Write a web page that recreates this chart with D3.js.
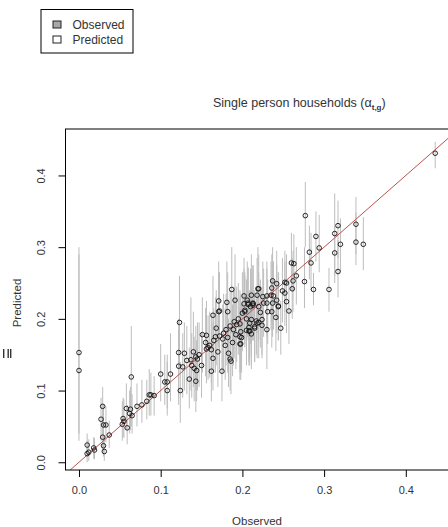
<!DOCTYPE html>
<html>
<head>
<meta charset="utf-8">
<script src="https://cdn.jsdelivr.net/npm/d3@7"></script>
<style>
  body { margin: 0; background: #fff; }
  svg { display: block; font-family: "Liberation Sans", Arial, sans-serif; }
</style>
</head>
<body>
<div id="chart"></div>
<script>
// observed share, predicted share, and predicted interval (low / high)
var observed = [
  0.000, 0.000, 0.010, 0.010, 0.012, 0.018, 0.019, 0.030, 0.031, 0.029,
  0.029, 0.027, 0.030, 0.033, 0.037, 0.053, 0.054, 0.055, 0.058, 0.059,
  0.064, 0.063, 0.065, 0.062, 0.071, 0.077, 0.086, 0.088, 0.092, 0.100,
  0.105, 0.108, 0.112, 0.124, 0.123, 0.122, 0.122, 0.127, 0.129, 0.135,
  0.132, 0.137, 0.138, 0.141, 0.140, 0.143, 0.144, 0.145, 0.150, 0.151,
  0.156, 0.155, 0.156, 0.162, 0.162, 0.164, 0.164, 0.167, 0.168, 0.170,
  0.171, 0.175, 0.177, 0.179, 0.182, 0.183, 0.185, 0.186, 0.188, 0.189,
  0.192, 0.193, 0.197, 0.197, 0.198, 0.200, 0.203, 0.205, 0.208, 0.210,
  0.213, 0.215, 0.220, 0.187, 0.191, 0.171, 0.172, 0.181, 0.182, 0.202,
  0.206, 0.211, 0.218, 0.219, 0.213, 0.436, 0.277, 0.317, 0.339, 0.313,
  0.290, 0.320, 0.339, 0.348, 0.294, 0.282, 0.313, 0.260, 0.263, 0.284,
  0.266, 0.317, 0.276, 0.262, 0.261, 0.287, 0.306, 0.252, 0.254, 0.249,
  0.252, 0.237, 0.242, 0.236, 0.220, 0.254, 0.257, 0.247, 0.244, 0.242,
  0.238, 0.235, 0.230, 0.237, 0.230, 0.231, 0.236, 0.226, 0.225, 0.207,
  0.202, 0.203, 0.220, 0.222, 0.211, 0.218, 0.224, 0.208, 0.197, 0.241,
  0.244, 0.230, 0.224, 0.217, 0.215, 0.209, 0.209, 0.211, 0.205, 0.199,
  0.198, 0.158, 0.160, 0.165, 0.172, 0.176, 0.180, 0.185, 0.190, 0.195,
  0.147, 0.143, 0.108, 0.083, 0.213, 0.207
];
var predicted = [
  0.153, 0.128, 0.024, 0.012, 0.014, 0.020, 0.017, 0.023, 0.015, 0.035,
  0.078, 0.060, 0.052, 0.052, 0.038, 0.053, 0.061, 0.057, 0.075, 0.048,
  0.119, 0.074, 0.065, 0.068, 0.078, 0.080, 0.094, 0.094, 0.093, 0.123,
  0.112, 0.100, 0.123, 0.100, 0.195, 0.153, 0.134, 0.133, 0.152, 0.116,
  0.142, 0.143, 0.135, 0.131, 0.154, 0.113, 0.128, 0.144, 0.135, 0.178,
  0.177, 0.167, 0.158, 0.157, 0.127, 0.205, 0.145, 0.175, 0.187, 0.154,
  0.210, 0.127, 0.180, 0.163, 0.174, 0.152, 0.144, 0.141, 0.167, 0.185,
  0.178, 0.192, 0.175, 0.165, 0.182, 0.208, 0.210, 0.200, 0.183, 0.217,
  0.221, 0.189, 0.195, 0.241, 0.226, 0.225, 0.211, 0.223, 0.210, 0.232,
  0.226, 0.233, 0.233, 0.242, 0.222, 0.431, 0.344, 0.330, 0.332, 0.319,
  0.315, 0.304, 0.307, 0.304, 0.299, 0.293, 0.292, 0.278, 0.277, 0.278,
  0.260, 0.266, 0.252, 0.253, 0.242, 0.241, 0.241, 0.251, 0.250, 0.239,
  0.236, 0.253, 0.249, 0.243, 0.242, 0.224, 0.211, 0.187, 0.217, 0.226,
  0.232, 0.233, 0.232, 0.222, 0.222, 0.210, 0.210, 0.222, 0.231, 0.222,
  0.221, 0.212, 0.217, 0.209, 0.199, 0.194, 0.199, 0.188, 0.193, 0.202,
  0.218, 0.185, 0.191, 0.197, 0.187, 0.194, 0.183, 0.179, 0.184, 0.174,
  0.165, 0.160, 0.163, 0.170, 0.176, 0.172, 0.185, 0.190, 0.196, 0.200,
  0.150, 0.147, 0.112, 0.085, 0.219, 0.220
];
var predLow = [
  0.030, 0.040, 0.008, 0.000, 0.002, 0.005, 0.004, 0.008, 0.002, 0.015,
  0.040, 0.030, 0.025, 0.028, 0.020, 0.030, 0.035, 0.034, 0.045, 0.025,
  0.050, 0.045, 0.040, 0.040, 0.050, 0.055, 0.065, 0.065, 0.065, 0.085,
  0.080, 0.065, 0.085, 0.055, 0.130, 0.090, 0.080, 0.090, 0.100, 0.075,
  0.095, 0.100, 0.090, 0.085, 0.105, 0.070, 0.085, 0.100, 0.090, 0.125,
  0.130, 0.120, 0.110, 0.110, 0.085, 0.150, 0.100, 0.125, 0.135, 0.105,
  0.160, 0.085, 0.130, 0.115, 0.125, 0.105, 0.100, 0.095, 0.120, 0.135,
  0.130, 0.140, 0.125, 0.115, 0.130, 0.155, 0.160, 0.150, 0.135, 0.165,
  0.170, 0.140, 0.145, 0.180, 0.170, 0.165, 0.160, 0.170, 0.155, 0.180,
  0.175, 0.180, 0.180, 0.190, 0.170, 0.410, 0.300, 0.285, 0.290, 0.260,
  0.280, 0.265, 0.275, 0.268, 0.265, 0.255, 0.250, 0.240, 0.238, 0.240,
  0.220, 0.230, 0.215, 0.210, 0.200, 0.219, 0.210, 0.210, 0.205, 0.195,
  0.190, 0.205, 0.200, 0.195, 0.195, 0.180, 0.165, 0.150, 0.170, 0.180,
  0.185, 0.185, 0.185, 0.175, 0.175, 0.165, 0.160, 0.175, 0.185, 0.175,
  0.170, 0.165, 0.170, 0.160, 0.150, 0.145, 0.150, 0.140, 0.145, 0.155,
  0.170, 0.130, 0.145, 0.150, 0.140, 0.145, 0.135, 0.130, 0.135, 0.125,
  0.115, 0.115, 0.118, 0.125, 0.130, 0.125, 0.135, 0.140, 0.145, 0.150,
  0.105, 0.100, 0.075, 0.060, 0.170, 0.170
];
var predHigh = [
  0.300, 0.290, 0.040, 0.030, 0.032, 0.035, 0.034, 0.045, 0.035, 0.060,
  0.105, 0.090, 0.080, 0.078, 0.058, 0.085, 0.090, 0.088, 0.110, 0.080,
  0.190, 0.105, 0.095, 0.100, 0.110, 0.115, 0.130, 0.125, 0.120, 0.165,
  0.150, 0.140, 0.180, 0.140, 0.260, 0.200, 0.185, 0.180, 0.195, 0.160,
  0.190, 0.230, 0.180, 0.175, 0.210, 0.155, 0.170, 0.195, 0.180, 0.230,
  0.225, 0.215, 0.205, 0.205, 0.175, 0.260, 0.195, 0.230, 0.240, 0.205,
  0.265, 0.170, 0.235, 0.215, 0.225, 0.200, 0.190, 0.185, 0.220, 0.240,
  0.230, 0.245, 0.230, 0.215, 0.235, 0.265, 0.265, 0.255, 0.235, 0.270,
  0.275, 0.240, 0.250, 0.300, 0.290, 0.280, 0.265, 0.280, 0.265, 0.285,
  0.280, 0.290, 0.285, 0.300, 0.275, 0.447, 0.391, 0.365, 0.370, 0.375,
  0.350, 0.340, 0.348, 0.342, 0.345, 0.330, 0.330, 0.320, 0.318, 0.320,
  0.300, 0.310, 0.300, 0.295, 0.285, 0.264, 0.271, 0.295, 0.290, 0.285,
  0.280, 0.300, 0.295, 0.290, 0.290, 0.270, 0.255, 0.225, 0.265, 0.275,
  0.280, 0.280, 0.280, 0.270, 0.270, 0.255, 0.255, 0.270, 0.280, 0.270,
  0.270, 0.260, 0.265, 0.255, 0.245, 0.240, 0.245, 0.235, 0.240, 0.250,
  0.265, 0.230, 0.240, 0.245, 0.235, 0.240, 0.230, 0.225, 0.230, 0.220,
  0.210, 0.205, 0.210, 0.215, 0.225, 0.220, 0.235, 0.240, 0.245, 0.250,
  0.195, 0.190, 0.150, 0.115, 0.270, 0.272
];
var tickValues = [0.0, 0.1, 0.2, 0.3, 0.4];
var legendLabels = ["Observed", "Predicted"];
var legendFills = ["#a8a8a8", "#ffffff"];

var W = 448, H = 527;
var plot = { left: 65.5, top: 129, right: 453.6, bottom: 470 };
var xlim = [-0.0165, 0.4585];
var ylim = [-0.0108, 0.4648];

var svg = d3
  .select("#chart")
  .append("svg")
  .attr("width", W)
  .attr("height", H);

var x = d3.scaleLinear().domain(xlim).range([plot.left, plot.right]);
var y = d3.scaleLinear().domain(ylim).range([plot.bottom, plot.top]);

svg
  .append("defs")
  .append("clipPath")
  .attr("id", "plotclip")
  .append("rect")
  .attr("x", plot.left)
  .attr("y", plot.top)
  .attr("width", plot.right - plot.left)
  .attr("height", plot.bottom - plot.top);

var data = observed.map((d, i) => ({
  obs: d,
  pred: predicted[i],
  lo: predLow[i],
  hi: predHigh[i],
}));

var inner = svg.append("g").attr("clip-path", "url(#plotclip)");

// interval bars
inner
  .selectAll(".bar")
  .data(data)
  .enter()
  .append("line")
  .attr("class", "bar")
  .attr("x1", (d) => x(d.obs))
  .attr("x2", (d) => x(d.obs))
  .attr("y1", (d) => y(d.lo))
  .attr("y2", (d) => y(d.hi))
  .attr("stroke", "#bdbdbd")
  .attr("stroke-width", 1);

// 1:1 line
inner
  .append("line")
  .attr("x1", x(xlim[0]))
  .attr("y1", y(xlim[0]))
  .attr("x2", x(xlim[1]))
  .attr("y2", y(xlim[1]))
  .attr("stroke", "#b9524c")
  .attr("stroke-width", 1);

inner
  .selectAll(".pt")
  .data(data)
  .enter()
  .append("circle")
  .attr("class", "pt")
  .attr("cx", (d) => x(d.obs))
  .attr("cy", (d) => y(d.pred))
  .attr("r", 2.3)
  .attr("fill", "none")
  .attr("stroke", "#111")
  .attr("stroke-width", 0.9);

// box
svg
  .append("rect")
  .attr("x", plot.left)
  .attr("y", plot.top)
  .attr("width", plot.right - plot.left)
  .attr("height", plot.bottom - plot.top)
  .attr("fill", "none")
  .attr("stroke", "#000")
  .attr("stroke-width", 1);

// axes
var xAxis = svg
  .append("g")
  .attr("transform", `translate(0,${plot.bottom})`)
  .call(d3.axisBottom(x).tickValues(tickValues).tickFormat(d3.format(".1f")).tickSize(7).tickPadding(9));
xAxis.select(".domain").remove();
xAxis.selectAll("text").attr("font-size", 11).attr("fill", "#333").attr("font-family", "Liberation Sans, Arial, sans-serif");

var yAxis = svg
  .append("g")
  .attr("transform", `translate(${plot.left},0)`)
  .call(d3.axisLeft(y).tickValues(tickValues).tickFormat(d3.format(".1f")).tickSize(7).tickPadding(9));
yAxis.select(".domain").remove();
yAxis
  .selectAll("text")
  .attr("font-size", 11)
  .attr("fill", "#333")
  .attr("font-family", "Liberation Sans, Arial, sans-serif")
  .attr("text-anchor", "middle")
  .attr("dy", null)
  .attr("x", null)
  .attr("transform", "translate(-21,0) rotate(-90)");

// axis titles
svg
  .append("text")
  .attr("x", 257)
  .attr("y", 525)
  .attr("text-anchor", "middle")
  .attr("font-size", 11.5)
  .attr("fill", "#333")
  .text("Observed");

svg
  .append("text")
  .attr("transform", "translate(21,303) rotate(-90)")
  .attr("text-anchor", "middle")
  .attr("font-size", 11.5)
  .attr("fill", "#333")
  .text("Predicted");

// title
var title = svg
  .append("text")
  .attr("x", 213)
  .attr("y", 107)
  .attr("font-size", 12.5)
  .attr("fill", "#333");
title.append("tspan").text("Single person households (α");
title.append("tspan").attr("font-size", 8).attr("font-weight", "bold").attr("dy", 2.5).text("t,g");
title.append("tspan").attr("dy", -2.5).text(")");

// clipped remnant of a label at the far left edge
var stub = svg.append("g").attr("fill", "#333");
[3, 7.5, 10].forEach((sx) => {
  stub.append("rect").attr("x", sx).attr("y", 349).attr("width", 1.4).attr("height", 9);
});

// legend
var leg = svg.append("g");
leg
  .append("rect")
  .attr("x", 41)
  .attr("y", 9.5)
  .attr("width", 92)
  .attr("height", 43.5)
  .attr("fill", "#fff")
  .attr("stroke", "#000");
legendLabels.forEach((t, i) => {
  leg
    .append("rect")
    .attr("x", 53)
    .attr("y", 21 + i * 15)
    .attr("width", 8)
    .attr("height", 7)
    .attr("fill", legendFills[i])
    .attr("stroke", "#222");
  leg
    .append("text")
    .attr("x", 72.5)
    .attr("y", 29 + i * 15)
    .attr("font-size", 12)
    .attr("fill", "#333")
    .text(t);
});
</script>
</body>
</html>
